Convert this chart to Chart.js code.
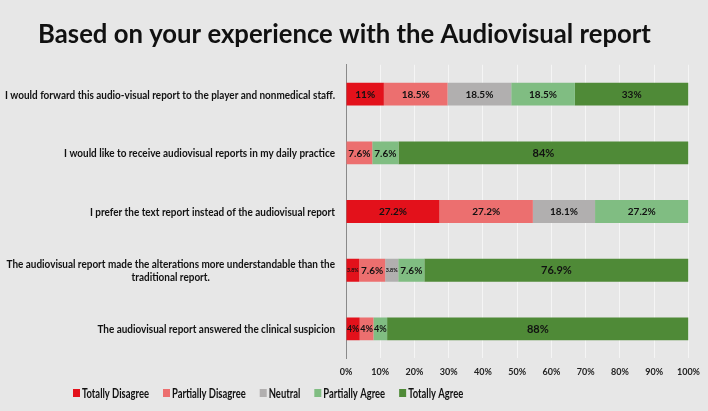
<!DOCTYPE html>
<html><head><meta charset="utf-8">
<script src="https://cdn.jsdelivr.net/npm/chart.js@4.4.1/dist/chart.umd.min.js"></script>
<style>
html,body{margin:0;padding:0;background:#e7e7e7;}
#wrap{position:relative;width:708px;height:411px;}
</style></head>
<body><div id="wrap"><canvas id="c"></canvas></div>
<script>
const categories = [
  ["I would forward this audio-visual report to the player and nonmedical staff."],
  ["I would like to receive audiovisual reports in my daily practice"],
  ["I prefer the text report instead of the audiovisual report"],
  ["The audiovisual report made the alterations more understandable than the", "traditional report."],
  ["The audiovisual report answered the clinical suspicion"]
];
const seriesNames = ["Totally Disagree", "Partially Disagree", "Neutral", "Partially Agree", "Totally Agree"];
const totallyDisagree   = [11, 0, 27.2, 3.8, 4];
const partiallyDisagree = [18.5, 7.6, 27.2, 7.6, 4];
const neutral           = [18.5, 0, 18.1, 3.8, 0];
const partiallyAgree    = [18.5, 7.6, 27.2, 7.6, 4];
const totallyAgree      = [33, 84, 0, 76.9, 88];
const xTicks = [0,10,20,30,40,50,60,70,80,90,100];
const titleText = 'Based on your experience with the Audiovisual report';
const colors = ["#e3111b", "#ec6f6f", "#b1afaf", "#80bd82", "#4f8a37"];

const seriesValues = [totallyDisagree, partiallyDisagree, neutral, partiallyAgree, totallyAgree];
// 100% stacked: each row is scaled to its own total (labels keep the reported values)
const rowTotals = categories.map((_, i) => seriesValues.reduce((s, arr) => s + arr[i], 0));
const FONT = "Lato, 'Open Sans', sans-serif";

const mctx = document.createElement('canvas').getContext('2d');
function textW(text, size) {
  mctx.font = `bold ${size}px ${FONT}`;
  return mctx.measureText(text).width;
}
const titleSize = 20 * 613 / textW(titleText, 20);
const legendSize = 13;
const legendSX = 67 / textW('Totally Disagree', legendSize);
const catSize = 11;
const catSX = 330 / textW(categories[0][0], catSize);

function condensedText(ctx, text, x, y, align, sx) {
  ctx.save();
  ctx.translate(x, y);
  ctx.scale(sx, 1);
  ctx.textAlign = align;
  ctx.fillText(text, 0, 0);
  ctx.restore();
}

const labelPlugin = {
  id: 'barLabels',
  afterDatasetsDraw(chart) {
    const ctx = chart.ctx;
    ctx.save();
    ctx.textAlign = 'center';
    ctx.textBaseline = 'middle';
    ctx.fillStyle = '#111';
    chart.data.datasets.forEach((ds, di) => {
      const meta = chart.getDatasetMeta(di);
      meta.data.forEach((bar, i) => {
        const v = ds.rawValues[i];
        if (!v) return;
        const w = Math.abs(bar.x - bar.base);
        const txt = v + '%';
        let size = v > 70 ? 11 : 10;
        ctx.font = `bold ${size}px ${FONT}`;
        let tw = ctx.measureText(txt).width;
        if (tw > w - 1) { size = Math.max(5, size * (w - 1) / tw); ctx.font = `bold ${size}px ${FONT}`; }
        ctx.fillText(txt, (bar.x + bar.base) / 2, bar.y + 0.5);
      });
    });
    ctx.restore();
  }
};

const yLabelPlugin = {
  id: 'yLabels',
  afterDraw(chart) {
    const ctx = chart.ctx;
    const ys = chart.scales.y;
    ctx.save();
    ctx.fillStyle = '#111';
    ctx.textBaseline = 'middle';
    ctx.font = `bold ${catSize}px ${FONT}`;
    const rightX = 335;
    categories.forEach((lines, i) => {
      const yc = ys.getPixelForValue(i);
      const lh = 13.5;
      if (lines.length === 1) {
        condensedText(ctx, lines[0], rightX, yc + 1, 'right', catSX);
      } else {
        const w0 = ctx.measureText(lines[0]).width * catSX;
        const cx = rightX - w0 / 2;
        const y0 = yc + 1 - (lines.length - 1) * lh / 2;
        lines.forEach((l, k) => condensedText(ctx, l, cx, y0 + k * lh, 'center', catSX));
      }
    });
    // legend
    ctx.font = `bold ${legendSize}px ${FONT}`;
    let x = 73;
    const y = 393;
    seriesNames.forEach((n, k) => {
      ctx.fillStyle = colors[k];
      ctx.fillRect(x, y - 4, 7, 8);
      ctx.fillStyle = '#111';
      condensedText(ctx, n, x + 9, y + 0.5, 'left', legendSX);
      x += 9 + ctx.measureText(n).width * legendSX + 14;
    });
    ctx.restore();
  }
};

new Chart(document.getElementById('c'), {
  type: 'bar',
  data: {
    labels: categories.map(c => c.join(' ')),
    datasets: seriesNames.map((n, k) => ({
      label: n,
      rawValues: seriesValues[k],
      data: seriesValues[k].map((v, i) => v / rowTotals[i] * 100),
      backgroundColor: colors[k],
      borderWidth: 0,
      barPercentage: 0.39,
      categoryPercentage: 1.0
    }))
  },
  options: {
    indexAxis: 'y',
    responsive: true,
    maintainAspectRatio: false,
    animation: false,
    layout: { padding: { left: 0, right: 19, top: 0, bottom: 26 } },
    plugins: {
      legend: { display: false },
      tooltip: { enabled: false },
      title: {
        display: true,
        text: titleText,
        color: '#111',
        font: { family: FONT, size: titleSize, weight: 'bold', lineHeight: 1.2 },
        padding: { top: 19, bottom: 15 }
      }
    },
    scales: {
      x: {
        stacked: true,
        min: 0, max: 100,
        afterBuildTicks(scale) { scale.ticks = xTicks.map(v => ({ value: v })); },
        ticks: {
          callback: v => v + '%',
          color: '#222',
          font: { family: FONT, size: 9, weight: 'bold' },
          padding: 8,
          maxRotation: 0
        },
        grid: { color: '#f5f5f5', lineWidth: 1, drawTicks: false },
        border: { display: false }
      },
      y: {
        stacked: true,
        ticks: { display: false },
        afterFit(scale) { scale.width = 346; },
        grid: { display: false },
        border: { display: true, color: '#8a8a8a', width: 1 }
      }
    }
  },
  plugins: [labelPlugin, yLabelPlugin]
});
</script></body></html>
